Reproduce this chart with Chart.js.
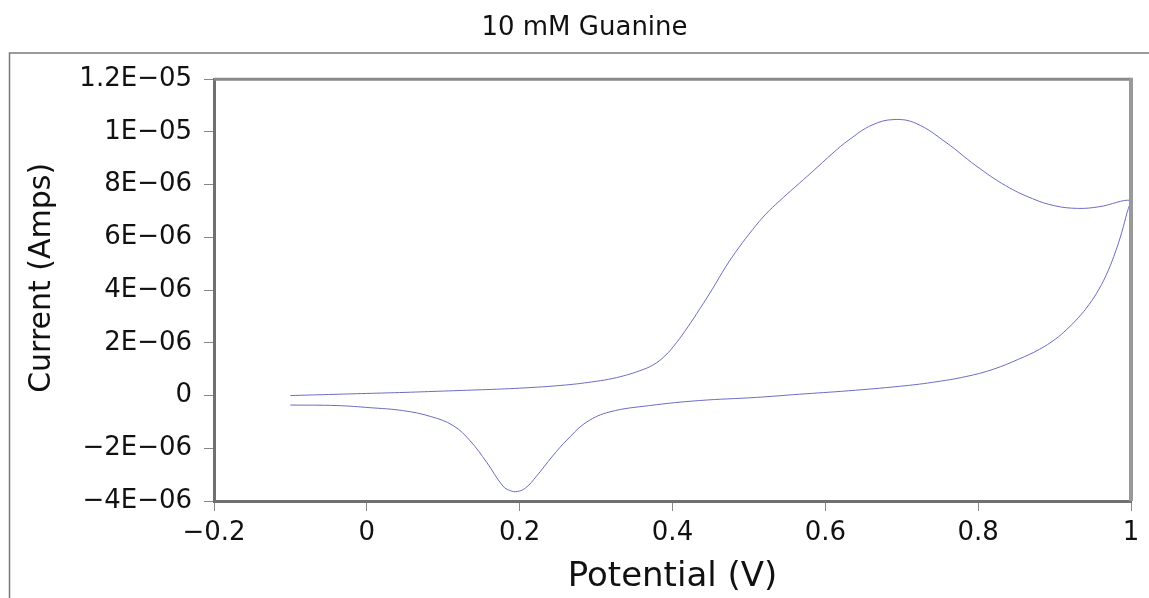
<!DOCTYPE html>
<html>
<head>
<meta charset="utf-8">
<script src="https://cdn.jsdelivr.net/npm/chart.js@4.4.1/dist/chart.umd.min.js"></script>
<style>
    html, body { margin: 0; padding: 0; background: #fff; overflow: hidden; }
    #wrap { width: 1149px; height: 598px; }
</style>
</head>
<body>
<div id="wrap"><canvas id="cv"></canvas></div>
<script>
// ===== DATOS =====
// barrido de ida (V, µA)
const potentialFwd = [-0.1, -0.05, 0.0, 0.05, 0.1, 0.15, 0.2, 0.26, 0.3, 0.322, 0.34, 0.357, 0.374, 0.39,
    0.405, 0.42, 0.436, 0.452, 0.47, 0.487, 0.505, 0.522, 0.54, 0.56, 0.583, 0.61, 0.631, 0.661, 0.69,
    0.719, 0.758, 0.797, 0.836, 0.871, 0.9, 0.93, 0.958, 1.0];
const currentFwd = [0.0, 0.04, 0.08, 0.12, 0.17, 0.22, 0.28, 0.40, 0.54, 0.65, 0.78, 0.94, 1.15, 1.5,
    2.0, 2.6, 3.3, 4.03, 4.9, 5.62, 6.3, 6.88, 7.38, 7.9, 8.49, 9.2, 9.7, 10.26, 10.47,
    10.32, 9.6, 8.72, 7.96, 7.47, 7.2, 7.1, 7.16, 7.4];
// barrido de vuelta (V, µA)
const potentialRev = [0.995, 0.988, 0.98, 0.97, 0.958, 0.945, 0.931, 0.916, 0.901, 0.88, 0.853, 0.82, 0.784,
    0.74, 0.697, 0.63, 0.566, 0.51, 0.435, 0.37, 0.318, 0.288, 0.263, 0.243, 0.222, 0.208, 0.197, 0.187,
    0.178, 0.157, 0.135, 0.113, 0.083, 0.047, 0.004, -0.039, -0.1];
const currentRev = [6.95, 6.2, 5.48, 4.73, 4.03, 3.45, 2.95, 2.51, 2.14, 1.75, 1.38, 1.0, 0.72,
    0.5, 0.35, 0.18, 0.05, -0.07, -0.19, -0.38, -0.62, -1.0, -1.65, -2.3, -3.06, -3.5, -3.64, -3.6,
    -3.43, -2.54, -1.71, -1.14, -0.79, -0.57, -0.46, -0.38, -0.36];

const xTicks = [-0.2, 0, 0.2, 0.4, 0.6, 0.8, 1];
const yTicks = [-4e-6, -2e-6, 0, 2e-6, 4e-6, 6e-6, 8e-6, 1e-5, 1.2e-5];

const titleText = '10 mM Guanine';
const xTitle = 'Potential (V)';
const yTitle = '\u2002 Current (Amps)';

// ===== PUNTOS =====
const points = [];
potentialFwd.forEach((v, i) => points.push({ x: v, y: currentFwd[i] * 1e-6 }));
potentialRev.forEach((v, i) => points.push({ x: v, y: currentRev[i] * 1e-6 }));

const MINUS = '\u2212';

function fmtY(v) {
    if (Math.abs(v) < 1e-12) return '0';
    const parts = Math.abs(v).toExponential().split('e');
    const mant = parseFloat(parseFloat(parts[0]).toFixed(3));
    const exp = parseInt(parts[1], 10);
    const expStr = (exp < 0 ? MINUS : '+') + String(Math.abs(exp)).padStart(2, '0');
    return (v < 0 ? MINUS : '') + mant + 'E' + expStr;
}

function fmtX(v) {
    if (Math.abs(v) < 1e-9) return '0';
    return String(parseFloat(v.toFixed(2))).replace('-', MINUS);
}

// marco exterior y bordes superior/derecho del área de trazado
const framePlugin = {
    id: 'frame',
    beforeDraw(chart) {
        const ctx = chart.ctx;
        ctx.save();
        ctx.strokeStyle = '#7a7a7a';
        ctx.lineWidth = 1.5;
        ctx.beginPath();
        ctx.moveTo(9.5, 600);
        ctx.lineTo(9.5, 53);
        ctx.lineTo(1160, 53);
        ctx.stroke();
        ctx.restore();
    },
    afterDraw(chart) {
        const { ctx, chartArea: a } = chart;
        ctx.save();
        ctx.strokeStyle = '#8a8a8a';
        ctx.lineWidth = 3;
        ctx.beginPath();
        ctx.moveTo(a.left, a.top);
        ctx.lineTo(a.right, a.top);
        ctx.stroke();
        ctx.strokeStyle = '#999';
        ctx.lineWidth = 4;
        ctx.beginPath();
        ctx.moveTo(a.right, a.top - 1.5);
        ctx.lineTo(a.right, a.bottom);
        ctx.stroke();
        ctx.restore();
    }
};

const font = 'DejaVu Sans';

new Chart(document.getElementById('cv'), {
    type: 'scatter',
    data: {
        datasets: [{
            data: points,
            showLine: true,
            borderColor: '#6c6cc2',
            borderWidth: 1,
            pointRadius: 0,
            tension: 0.4,
            fill: false
        }]
    },
    options: {
        responsive: true,
        maintainAspectRatio: false,
        animation: false,
        layout: { padding: { left: 20, right: 0, top: 0, bottom: 0 } },
        plugins: {
            legend: { display: false },
            tooltip: { enabled: false },
            title: {
                display: true,
                text: titleText,
                color: '#111',
                font: { family: font, size: 26, weight: 'normal', lineHeight: 1.2 },
                padding: { top: 13, bottom: 35 }
            }
        },
        scales: {
            x: {
                type: 'linear',
                min: -0.2,
                max: 1,
                afterBuildTicks: s => { s.ticks = xTicks.map(v => ({ value: v })); },
                afterFit: s => { s.height = 97; s.paddingRight = 18; },
                ticks: {
                    callback: v => fmtX(v),
                    color: '#111',
                    font: { family: font, size: 26 },
                    padding: 7,
                    maxRotation: 0
                },
                grid: { drawOnChartArea: false, drawTicks: true, tickLength: 10, color: '#888', lineWidth: 1 },
                border: { display: true, color: '#707070', width: 3 },
                title: {
                    display: true,
                    text: xTitle,
                    color: '#111',
                    font: { family: font, size: 34, lineHeight: 1.2 },
                    padding: { top: 0, bottom: 0 }
                }
            },
            y: {
                type: 'linear',
                min: -4e-6,
                max: 1.2e-5,
                afterBuildTicks: s => { s.ticks = yTicks.map(v => ({ value: v })); },
                afterFit: s => { s.width = 194; },
                ticks: {
                    callback: v => fmtY(v),
                    color: '#111',
                    font: { family: font, size: 26 },
                    padding: 12
                },
                grid: { drawOnChartArea: false, drawTicks: true, tickLength: 10, color: '#888', lineWidth: 1 },
                border: { display: true, color: '#707070', width: 3 },
                title: {
                    display: true,
                    text: yTitle,
                    color: '#111',
                    font: { family: font, size: 30, lineHeight: 1.2 },
                    padding: { top: 4, bottom: 0 }
                }
            }
        }
    },
    plugins: [framePlugin]
});
</script>
</body>
</html>
